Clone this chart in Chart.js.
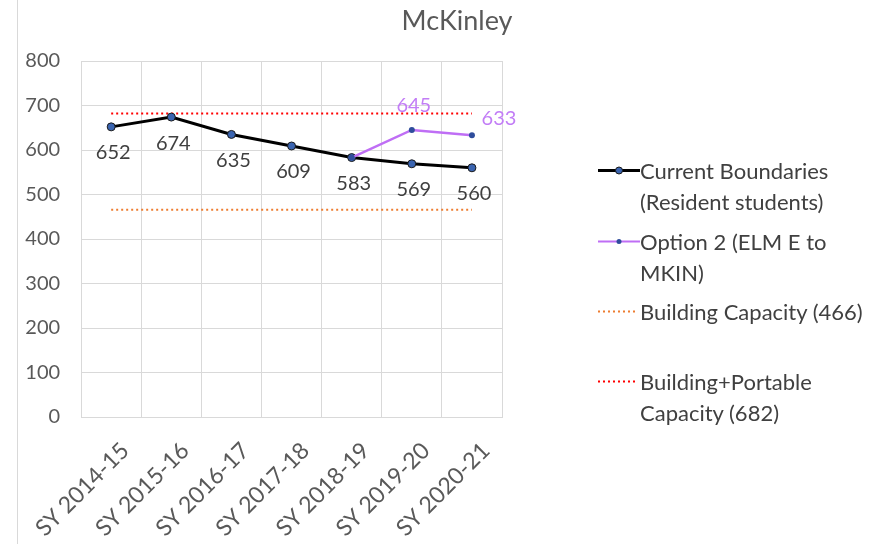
<!DOCTYPE html>
<html>
<head>
<meta charset="utf-8">
<script src="https://cdn.jsdelivr.net/npm/chart.js@4"></script>
<style>
  body { margin: 0; background: #fff; font-family: Lato, "Open Sans", sans-serif; }
  .leg { position: absolute; left: 598px; color: #404040; font-size: 22px; line-height: 31px; }
  .leg .sym { position: absolute; left: 0; width: 42px; }
  .leg .txt { margin-left: 42px; white-space: nowrap; }
</style>
</head>
<body>
<canvas id="mckinley" width="877" height="544" style="position:absolute;left:0;top:0"></canvas>
<div style="position:absolute;left:17px;top:0;width:1px;height:544px;background:#d9d9d9"></div>
<div style="position:absolute;left:0;top:3px;width:914px;text-align:center;font-family:Lato,sans-serif;font-size:27px;color:#595959">McKinley</div>
<div id="legend"></div>
<script>
const years = ['SY 2014-15', 'SY 2015-16', 'SY 2016-17', 'SY 2017-18', 'SY 2018-19', 'SY 2019-20', 'SY 2020-21']
const current = [652, 674, 635, 609, 583, 569, 560]
const option2 = [null, null, null, null, 583, 645, 633]
const capacity = [466, 466, 466, 466, 466, 466, 466]
const portable = [682, 682, 682, 682, 682, 682, 682]
const y_ticks = [0, 100, 200, 300, 400, 500, 600, 700, 800]

// labels drawn next to the points
const value_labels = {
    id: 'value_labels',
    afterDatasetsDraw(chart) {
        const ctx = chart.ctx
        ctx.save()
        ctx.font = '20px Lato'
        ctx.textAlign = 'center'
        ctx.textBaseline = 'middle'
        chart.getDatasetMeta(0).data.forEach((pt, i) => {
            ctx.fillStyle = '#404040'
            ctx.fillText(current[i], pt.x + 2, pt.y + 26)
        })
        chart.getDatasetMeta(1).data.forEach((pt, i) => {
            if (option2[i] == null || i == 4) return
            ctx.fillStyle = '#c27df6'
            if (i == 6) ctx.fillText(option2[i], pt.x + 27, pt.y - 17)
            else ctx.fillText(option2[i], pt.x + 2, pt.y - 24)
        })
        ctx.restore()
    }
}

const ctx = document.getElementById('mckinley').getContext('2d')
const myChart = new Chart(ctx, {
    type: 'line',
    data: {
        labels: years,
        datasets: [{
            label: 'Current Boundaries (Resident students)',
            data: current,
            borderColor: '#000000',
            borderWidth: 3,
            pointRadius: 4,
            pointBackgroundColor: '#3a64b0',
            pointBorderColor: '#1a1a1a',
            pointBorderWidth: 1,
            tension: 0,
            order: 2
        }, {
            label: 'Option 2 (ELM E to MKIN)',
            data: option2,
            borderColor: '#bf6ef5',
            borderWidth: 2.5,
            pointRadius: 3,
            pointBackgroundColor: '#2f4d9c',
            pointBorderColor: '#2f4d9c',
            pointBorderWidth: 0,
            order: 1
        }, {
            label: 'Building Capacity (466)',
            data: capacity,
            borderColor: '#ed7d31',
            borderWidth: 2,
            borderDash: [2, 3],
            pointRadius: 0,
            order: 3
        }, {
            label: 'Building+Portable Capacity (682)',
            data: portable,
            borderColor: '#ff0000',
            borderWidth: 2,
            borderDash: [2, 3],
            pointRadius: 0,
            order: 3
        }]
    },
    options: {
        responsive: false,
        animation: false,
        layout: { padding: { left: 0, top: 61, right: 375, bottom: 0 } },
        plugins: { legend: { display: false }, title: { display: false }, tooltip: { enabled: false } },
        scales: {
            x: {
                offset: true,
                grid: { offset: true, color: '#d9d9d9', drawTicks: false },
                border: { color: '#d9d9d9' },
                ticks: { color: '#595959', font: { family: 'Lato', size: 23 }, maxRotation: 45, minRotation: 45, padding: 20, labelOffset: 14 },
                afterFit: s => { s.height = 127 }
            },
            y: {
                min: 0,
                max: 800,
                afterBuildTicks: s => { s.ticks = y_ticks.map(v => ({ value: v })) },
                grid: { color: '#d9d9d9', drawTicks: false },
                border: { display: false },
                ticks: { color: '#595959', font: { family: 'Lato', size: 20 }, padding: 21 },
                afterFit: s => { s.width = 79 }
            }
        }
    },
    plugins: [value_labels]
})

// legend on the right, html so the text wraps like the original
const legend_items = [
    { lines: ['Current Boundaries', '(Resident students)'], top: 155, sym: 'current' },
    { lines: ['Option 2 (ELM E to', 'MKIN)'], top: 226, sym: 'option' },
    { lines: ['Building Capacity (466)'], top: 296, sym: 'orange' },
    { lines: ['Building+Portable', 'Capacity (682)'], top: 366, sym: 'red' }
]
function legend_symbol(kind) {
    if (kind == 'current') return '<svg width="42" height="31"><line x1="0" y1="15.5" x2="42" y2="15.5" stroke="#000" stroke-width="3"/><circle cx="21" cy="15.5" r="3.5" fill="#3a64b0" stroke="#1a1a1a"/></svg>'
    if (kind == 'option') return '<svg width="42" height="31"><line x1="0" y1="15.5" x2="42" y2="15.5" stroke="#bf6ef5" stroke-width="2"/><circle cx="21" cy="15.5" r="2.5" fill="#2f4d9c"/></svg>'
    let c = kind == 'orange' ? '#ed7d31' : '#ff0000'
    return '<svg width="42" height="31"><line x1="0" y1="15.5" x2="40" y2="15.5" stroke="' + c + '" stroke-width="2" stroke-dasharray="2 3"/></svg>'
}
let html = ''
legend_items.forEach(item => {
    html += '<div class="leg" style="top:' + item.top + 'px"><span class="sym">' + legend_symbol(item.sym) + '</span>'
    item.lines.forEach(t => { html += '<div class="txt">' + t + '</div>' })
    html += '</div>'
})
document.getElementById('legend').innerHTML = html
</script>
</body>
</html>
